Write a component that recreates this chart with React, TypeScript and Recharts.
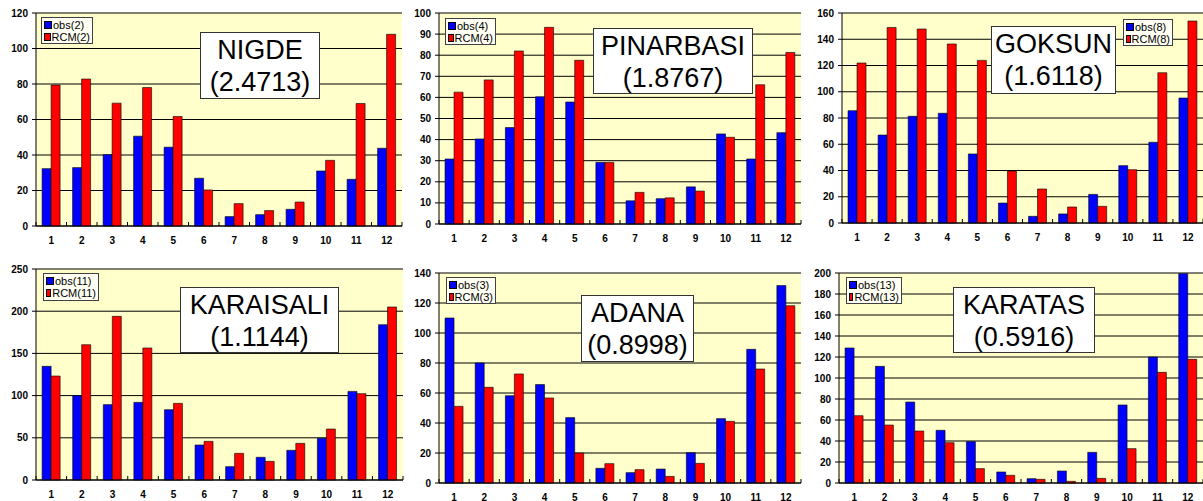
import React from 'react';
import { BarChart, Bar, XAxis, YAxis, CartesianGrid, ReferenceArea, Legend } from 'recharts';

const months = ['1', '2', '3', '4', '5', '6', '7', '8', '9', '10', '11', '12'];

const nigdeObs = [32.3, 32.9, 40.2, 50.6, 44.4, 26.9, 5.3, 6.4, 9.4, 31, 26.3, 43.8];
const nigdeRcm = [79.4, 82.8, 69.2, 78, 61.7, 20.3, 12.6, 8.7, 13.5, 37, 69, 108];
const nigdeTicks = [0, 20, 40, 60, 80, 100, 120];

const pinarbasiObs = [30.8, 40.3, 45.7, 60.3, 57.8, 29.2, 11, 12, 17.6, 42.7, 30.8, 43.3];
const pinarbasiRcm = [62.5, 68.3, 82, 93.2, 77.6, 29.2, 15, 12.4, 15.6, 41.1, 66, 81.3];
const pinarbasiTicks = [0, 10, 20, 30, 40, 50, 60, 70, 80, 90, 100];

const goksunObs = [85.6, 67, 81.3, 83.6, 52.6, 15.2, 5.1, 6.9, 21.8, 43.7, 61.5, 95.2];
const goksunRcm = [121.9, 149, 147.8, 136.4, 123.9, 39.6, 25.9, 12.2, 12.7, 40.6, 114.5, 153.9];
const goksunTicks = [0, 20, 40, 60, 80, 100, 120, 140, 160];

const karaisaliObs = [134.7, 99.9, 89.3, 92, 83.3, 41.5, 15.8, 26.9, 35.2, 49.4, 105, 184];
const karaisaliRcm = [123.2, 160.3, 193.9, 156.4, 90.8, 45.8, 31.6, 22.1, 43.4, 60.4, 102.3, 205];
const karaisaliTicks = [0, 50, 100, 150, 200, 250];

const adanaObs = [110, 80, 58.2, 65.6, 43.6, 9.8, 6.9, 9.3, 20.2, 42.9, 89.1, 131.6];
const adanaRcm = [51.1, 63.8, 72.7, 56.7, 20, 12.9, 8.9, 4.4, 13.1, 41.1, 76, 118.2];
const adanaTicks = [0, 20, 40, 60, 80, 100, 120, 140];

const karatasObs = [128.6, 111.1, 77.1, 50.2, 39.4, 10.5, 4.1, 11.4, 29.2, 74.3, 120, 199.4];
const karatasRcm = [64.1, 55.2, 49.5, 38.4, 13.7, 7.3, 3.5, 1.6, 4.4, 32.7, 105.4, 117.8];
const karatasTicks = [0, 20, 40, 60, 80, 100, 120, 140, 160, 180, 200];

const FONT = '"Liberation Sans", Arial, Helvetica, sans-serif';

type Panel = {
  name: string;
  score: string;
  id: string;
  obs: number[];
  rcm: number[];
  ticks: number[];
  left: number;
  top: number;
  width: number;
  height: number;
  yWidth: number;
  mTop: number;
  mRight: number;
  xHeight: number;
  legend: { left: number; top: number; w: number; h: number };
  title: { left: number; top: number; w: number; h: number };
};

const panels: Panel[] = [
  {
    name: 'NIGDE', score: '(2.4713)', id: '2', obs: nigdeObs, rcm: nigdeRcm, ticks: nigdeTicks,
    left: 0, top: 0, width: 403, height: 250, yWidth: 36, mTop: 13, mRight: 1, xHeight: 24,
    legend: { left: 41, top: 17, w: 52, h: 27 }, title: { left: 200, top: 32, w: 120, h: 67 },
  },
  {
    name: 'PINARBASI', score: '(1.8767)', id: '4', obs: pinarbasiObs, rcm: pinarbasiRcm, ticks: pinarbasiTicks,
    left: 400, top: 0, width: 402, height: 250, yWidth: 39, mTop: 13, mRight: 1, xHeight: 26,
    legend: { left: 45, top: 18, w: 51, h: 27 }, title: { left: 193, top: 28, w: 160, h: 66 },
  },
  {
    name: 'GOKSUN', score: '(1.6118)', id: '8', obs: goksunObs, rcm: goksunRcm, ticks: goksunTicks,
    left: 800, top: 0, width: 403, height: 250, yWidth: 42, mTop: 13, mRight: 0, xHeight: 27,
    legend: { left: 323, top: 19, w: 50, h: 27 }, title: { left: 191, top: 26, w: 125, h: 68 },
  },
  {
    name: 'KARAISALI', score: '(1.1144)', id: '11', obs: karaisaliObs, rcm: karaisaliRcm, ticks: karaisaliTicks,
    left: 0, top: 250, width: 404, height: 251, yWidth: 36, mTop: 19, mRight: 1, xHeight: 21,
    legend: { left: 43, top: 23, w: 56, h: 28 }, title: { left: 180, top: 37, w: 159, h: 66 },
  },
  {
    name: 'ADANA', score: '(0.8998)', id: '3', obs: adanaObs, rcm: adanaRcm, ticks: adanaTicks,
    left: 400, top: 250, width: 402, height: 251, yWidth: 39, mTop: 23, mRight: 1, xHeight: 18,
    legend: { left: 46, top: 27, w: 50, h: 27 }, title: { left: 181, top: 45, w: 113, h: 67 },
  },
  {
    name: 'KARATAS', score: '(0.5916)', id: '13', obs: karatasObs, rcm: karatasRcm, ticks: karatasTicks,
    left: 800, top: 250, width: 403, height: 251, yWidth: 39, mTop: 23, mRight: 0, xHeight: 18,
    legend: { left: 46, top: 27, w: 56, h: 27 }, title: { left: 153, top: 37, w: 142, h: 66 },
  },
];

const XTick = (props: any) => {
  const { x, y, payload, index } = props;
  const half = payload && typeof payload.offset === 'number' ? payload.offset : 0;
  return (
    <g>
      <line x1={x - half} x2={x - half} y1={y} y2={y - 4} stroke="#000" strokeWidth={1} />
      {index === months.length - 1 && (
        <line x1={x + half} x2={x + half} y1={y} y2={y - 4} stroke="#000" strokeWidth={1} />
      )}
      <text
        x={x}
        y={y + 14}
        textAnchor="middle"
        dominantBaseline="central"
        fontSize={10}
        fontWeight="bold"
        fontFamily={FONT}
        fill="#000"
      >
        {payload.value}
      </text>
    </g>
  );
};

const LegendBox = ({ id, w, h }: { id: string; w: number; h: number }) => (
  <div
    style={{
      width: w,
      height: h,
      boxSizing: 'border-box',
      border: '1px solid #404040',
      background: '#FFFFF4',
      padding: '1px 2px',
      fontFamily: FONT,
      fontSize: 11,
      lineHeight: '12px',
      color: '#000',
      textAlign: 'left',
    }}
  >
    {[
      { c: '#0000FF', t: `obs(${id})` },
      { c: '#FF0000', t: `RCM(${id})` },
    ].map((r) => (
      <div key={r.t} style={{ display: 'flex', alignItems: 'center', whiteSpace: 'nowrap' }}>
        <span
          style={{
            display: 'inline-block',
            width: 6,
            height: 6,
            background: r.c,
            border: '1px solid #000',
            marginRight: 1,
          }}
        />
        {r.t}
      </div>
    ))}
  </div>
);

const PanelChart = ({ p }: { p: Panel }) => {
  const data = months.map((m, i) => ({ month: m, obs: p.obs[i], rcm: p.rcm[i] }));
  const max = p.ticks[p.ticks.length - 1];
  return (
    <div style={{ position: 'absolute', left: p.left, top: p.top, width: p.width, height: p.height }}>
      <BarChart
        width={p.width}
        height={p.height}
        data={data}
        margin={{ top: p.mTop, right: p.mRight, bottom: 0, left: 0 }}
        barCategoryGap="20%"
        barGap={0}
      >
        <CartesianGrid vertical={false} stroke="#000" strokeWidth={1} fill="#FFFFCC" fillOpacity={1} />
        <ReferenceArea fill="none" stroke="#8c8c8c" strokeWidth={1} />
        <XAxis
          dataKey="month"
          interval={0}
          height={p.xHeight}
          tickSize={0}
          tickMargin={0}
          tickLine={false}
          axisLine={{ stroke: '#000', strokeWidth: 1 }}
          tick={<XTick />}
        />
        <YAxis
          width={p.yWidth}
          domain={[0, max]}
          ticks={p.ticks}
          interval={0}
          tickSize={4}
          tickMargin={4}
          axisLine={{ stroke: '#000', strokeWidth: 1 }}
          tickLine={{ stroke: '#000', strokeWidth: 1 }}
          tick={{ fontSize: 10, fontWeight: 'bold', fontFamily: FONT, fill: '#000' }}
        />
        <Legend
          layout="vertical"
          align="center"
          verticalAlign="middle"
          wrapperStyle={{ left: p.legend.left, top: p.legend.top, width: p.legend.w, height: p.legend.h }}
          content={() => <LegendBox id={p.id} w={p.legend.w} h={p.legend.h} />}
        />
        <Bar dataKey="obs" name={`obs(${p.id})`} fill="#0000FF" stroke="#000" strokeWidth={0.6} isAnimationActive={false} />
        <Bar dataKey="rcm" name={`RCM(${p.id})`} fill="#FF0000" stroke="#000" strokeWidth={0.6} isAnimationActive={false} />
      </BarChart>
      <div
        style={{
          position: 'absolute',
          left: p.title.left,
          top: p.title.top,
          width: p.title.w,
          height: p.title.h,
          boxSizing: 'border-box',
          border: '1px solid #333',
          background: '#FFFFFF',
          fontFamily: FONT,
          fontSize: 27,
          lineHeight: '32px',
          textAlign: 'center',
          color: '#000',
          paddingTop: 1,
          whiteSpace: 'nowrap',
        }}
      >
        <div>{p.name}</div>
        <div>{p.score}</div>
      </div>
    </div>
  );
};

export default function App() {
  return (
    <div style={{ position: 'absolute', left: 0, top: 0, width: 1203, height: 501, background: '#FFFFFF', overflow: 'hidden' }}>
      {panels.map((p) => (
        <PanelChart key={p.name} p={p} />
      ))}
    </div>
  );
}
